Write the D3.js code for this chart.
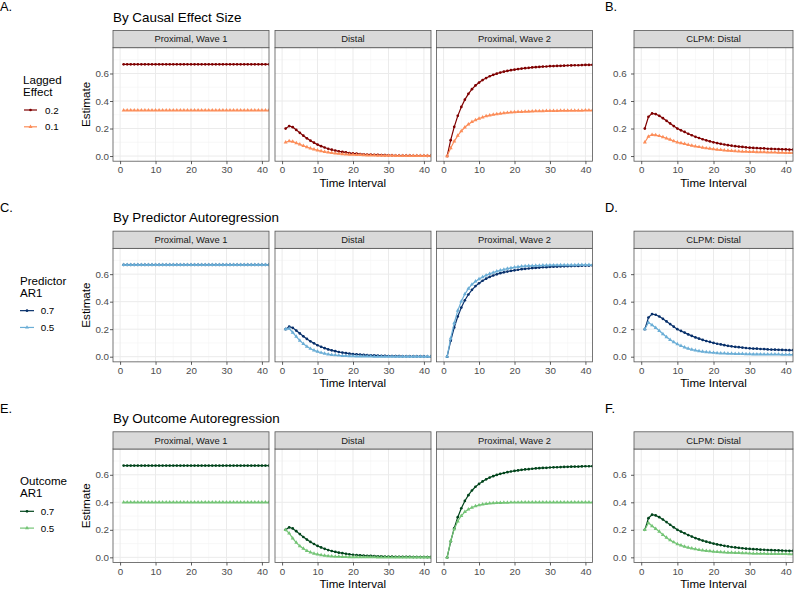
<!DOCTYPE html>
<html><head><meta charset="utf-8">
<script src="https://cdn.jsdelivr.net/npm/d3@7"></script>
<style>body{margin:0;background:#fff}svg{font-family:"Liberation Sans",Arial,sans-serif}</style>
</head><body><svg id="c" width="797" height="589"></svg>
<script>
// ---------------- DATA ----------------
const timeInterval = [1,2,3,4,5,6,7,8,9,10,11,12,13,14,15,16,17,18,19,20,21,22,23,24,25,26,27,28,29,30,31,32,33,34,35,36,37,38,39,40,41,42];

const stripLabels = ["Proximal, Wave 1","Distal","Proximal, Wave 2"];
const clpmStrip = "CLPM: Distal";
const rowTitles = ["By Causal Effect Size","By Predictor Autoregression","By Outcome Autoregression"];
const leftLabels = ["A.","C.","E."];
const rightLabels = ["B.","D.","F."];
const legendTitles = [["Lagged","Effect"],["Predictor","AR1"],["Outcome","AR1"]];
const legendLabels = [["0.2","0.1"],["0.7","0.5"],["0.7","0.5"]];
const xTicks = [0,10,20,30,40];
const yTicks = [0,0.2,0.4,0.6];
const xLabel = "Time Interval";
const yLabel = "Estimate";

// reference series (lagged 0.2, predictor AR 0.7, outcome AR 0.7) — same in every row
const darkProxW1 = [0.667,0.667,0.667,0.667,0.667,0.667,0.667,0.667,0.667,0.667,0.667,0.667,0.667,0.667,0.667,0.667,0.667,0.667,0.667,0.667,0.667,0.667,0.667,0.667,0.667,0.667,0.667,0.667,0.667,0.667,0.667,0.667,0.667,0.667,0.667,0.667,0.667,0.667,0.667,0.667,0.667,0.667];
const darkDistal = [0.200,0.218,0.210,0.190,0.169,0.148,0.129,0.112,0.097,0.083,0.072,0.062,0.053,0.046,0.040,0.034,0.030,0.026,0.022,0.019,0.017,0.015,0.013,0.011,0.010,0.009,0.008,0.007,0.006,0.005,0.005,0.004,0.004,0.003,0.003,0.003,0.002,0.002,0.002,0.002,0.001,0.001];
const darkProxW2 = [0.000,0.115,0.212,0.292,0.357,0.410,0.452,0.486,0.513,0.534,0.552,0.567,0.580,0.590,0.599,0.607,0.613,0.619,0.624,0.628,0.632,0.636,0.639,0.641,0.644,0.646,0.648,0.650,0.651,0.653,0.654,0.655,0.656,0.657,0.658,0.659,0.660,0.660,0.661,0.662,0.662,0.663];
const darkCLPM = [0.200,0.285,0.310,0.305,0.292,0.275,0.256,0.237,0.218,0.200,0.187,0.175,0.162,0.151,0.140,0.131,0.122,0.114,0.107,0.100,0.094,0.089,0.084,0.079,0.075,0.072,0.069,0.066,0.063,0.061,0.059,0.058,0.056,0.055,0.053,0.052,0.051,0.050,0.049,0.048,0.047,0.047];

// Lagged effect 0.1
const effProxW1 = [0.333,0.333,0.333,0.333,0.333,0.333,0.333,0.333,0.333,0.333,0.333,0.333,0.333,0.333,0.333,0.333,0.333,0.333,0.333,0.333,0.333,0.333,0.333,0.333,0.333,0.333,0.333,0.333,0.333,0.333,0.333,0.333,0.333,0.333,0.333,0.333,0.333,0.333,0.333,0.333,0.333,0.333];
const effDistal = [0.100,0.109,0.105,0.095,0.085,0.074,0.065,0.056,0.049,0.042,0.036,0.031,0.027,0.023,0.020,0.017,0.015,0.013,0.011,0.010,0.009,0.008,0.007,0.006,0.005,0.005,0.004,0.004,0.003,0.003,0.003,0.002,0.002,0.002,0.002,0.001,0.001,0.001,0.001,0.001,0.001,0.001];
const effProxW2 = [0.000,0.058,0.107,0.148,0.182,0.209,0.231,0.248,0.262,0.273,0.282,0.290,0.296,0.301,0.305,0.309,0.312,0.315,0.317,0.319,0.321,0.322,0.323,0.324,0.325,0.326,0.327,0.327,0.328,0.328,0.329,0.329,0.330,0.330,0.330,0.331,0.331,0.331,0.331,0.332,0.332,0.332];
const effCLPM = [0.100,0.142,0.155,0.153,0.146,0.138,0.128,0.119,0.109,0.100,0.094,0.088,0.081,0.076,0.070,0.066,0.061,0.057,0.054,0.050,0.047,0.045,0.042,0.040,0.038,0.036,0.035,0.033,0.032,0.031,0.030,0.029,0.028,0.028,0.027,0.026,0.026,0.025,0.025,0.024,0.024,0.024];

// Predictor AR 0.5
const predProxW1 = [0.667,0.667,0.667,0.667,0.667,0.667,0.667,0.667,0.667,0.667,0.667,0.667,0.667,0.667,0.667,0.667,0.667,0.667,0.667,0.667,0.667,0.667,0.667,0.667,0.667,0.667,0.667,0.667,0.667,0.667,0.667,0.667,0.667,0.667,0.667,0.667,0.667,0.667,0.667,0.667,0.667,0.667];
const predDistal = [0.200,0.205,0.176,0.146,0.117,0.093,0.074,0.058,0.046,0.037,0.029,0.023,0.018,0.014,0.011,0.009,0.007,0.006,0.005,0.004,0.003,0.003,0.002,0.002,0.002,0.001,0.001,0.001,0.001,0.001,0.001,0.001,0.000,0.000,0.000,0.000,0.000,0.000,0.000,0.000,0.000,0.000];
const predProxW2 = [0.000,0.133,0.245,0.335,0.403,0.455,0.495,0.525,0.547,0.564,0.579,0.592,0.603,0.612,0.620,0.627,0.634,0.640,0.645,0.650,0.653,0.656,0.658,0.660,0.661,0.662,0.663,0.664,0.664,0.665,0.665,0.665,0.666,0.666,0.666,0.666,0.666,0.667,0.667,0.667,0.667,0.667];
const predCLPM = [0.200,0.248,0.230,0.210,0.188,0.165,0.143,0.123,0.106,0.091,0.079,0.068,0.059,0.052,0.046,0.041,0.037,0.034,0.031,0.029,0.027,0.025,0.024,0.023,0.022,0.021,0.020,0.020,0.019,0.019,0.018,0.018,0.018,0.017,0.017,0.017,0.017,0.017,0.016,0.016,0.016,0.016];

// Outcome AR 0.5
const outProxW1 = [0.400,0.400,0.400,0.400,0.400,0.400,0.400,0.400,0.400,0.400,0.400,0.400,0.400,0.400,0.400,0.400,0.400,0.400,0.400,0.400,0.400,0.400,0.400,0.400,0.400,0.400,0.400,0.400,0.400,0.400,0.400,0.400,0.400,0.400,0.400,0.400,0.400,0.400,0.400,0.400,0.400,0.400];
const outDistal = [0.200,0.175,0.138,0.107,0.082,0.063,0.048,0.037,0.028,0.022,0.017,0.013,0.010,0.008,0.006,0.005,0.004,0.003,0.002,0.002,0.002,0.001,0.001,0.001,0.001,0.001,0.000,0.000,0.000,0.000,0.000,0.000,0.000,0.000,0.000,0.000,0.000,0.000,0.000,0.000,0.000,0.000];
const outProxW2 = [0.000,0.120,0.205,0.262,0.302,0.330,0.349,0.362,0.372,0.379,0.385,0.389,0.392,0.394,0.396,0.397,0.398,0.398,0.399,0.399,0.399,0.400,0.400,0.400,0.400,0.400,0.400,0.400,0.400,0.400,0.400,0.400,0.400,0.400,0.400,0.400,0.400,0.400,0.400,0.400,0.400,0.400];
const outCLPM = [0.200,0.250,0.228,0.208,0.187,0.164,0.143,0.125,0.110,0.097,0.087,0.078,0.071,0.065,0.060,0.055,0.051,0.048,0.045,0.042,0.040,0.038,0.036,0.035,0.034,0.033,0.032,0.031,0.030,0.029,0.028,0.028,0.027,0.027,0.026,0.026,0.025,0.025,0.025,0.025,0.024,0.024];

const rowColors = [["#7f0000","#fc8d59"],["#08306b","#6baed6"],["#00441b","#74c476"]];

const rows = [
  {dark:[darkProxW1,darkDistal,darkProxW2,darkCLPM], light:[effProxW1,effDistal,effProxW2,effCLPM]},
  {dark:[darkProxW1,darkDistal,darkProxW2,darkCLPM], light:[predProxW1,predDistal,predProxW2,predCLPM]},
  {dark:[darkProxW1,darkDistal,darkProxW2,darkCLPM], light:[outProxW1,outDistal,outProxW2,outCLPM]}
];

// ---------------- LAYOUT ----------------
const svg = d3.select("#c");
const ROW_DY = 200.65;
const stripTop = 30.5, panelTop = 47.7, panelBottom = 161.2;
const panelLefts = [113, 275, 436.5, 634];
const panelWidths = [156, 156, 156, 159];
const legendPos = [{tx:23,k0:24,k1:37,lx:45},{tx:20,k0:20,k1:34,lx:40.7},{tx:20,k0:20,k1:34,lx:40.7}];
const tickFont = 9.8, stripFont = 9.4, axisFont = 11.6;
let clipId = 0;

rows.forEach((row, r) => {
  const off = r * ROW_DY;
  const g = svg.append("g");
  const y = d3.scaleLinear().domain([-0.0375, 0.7875]).range([panelBottom + off, panelTop + off]);
  const cols = rowColors[r];

  g.append("text").attr("x", 0).attr("y", 11.3 + off).attr("font-size", 12.8).attr("fill", "#000").text(leftLabels[r]);
  g.append("text").attr("x", 605).attr("y", 11.3 + off).attr("font-size", 12.8).attr("fill", "#000").text(rightLabels[r]);
  g.append("text").attr("x", 113).attr("y", 21.7 + off).attr("font-size", 13.4).attr("fill", "#000").text(rowTitles[r]);

  for (let p = 0; p < 4; p++) {
    const L = panelLefts[p], W = panelWidths[p];
    const x = d3.scaleLinear().domain([-2, 42]).range([L, L + W]);
    const pg = g.append("g");
    pg.append("rect").attr("x", L).attr("y", panelTop + off).attr("width", W).attr("height", panelBottom - panelTop).attr("fill", "#fff");
    [5,15,25,35].forEach(v => pg.append("line").attr("x1", x(v)).attr("x2", x(v)).attr("y1", panelTop + off).attr("y2", panelBottom + off).attr("stroke", "#f3f3f3").attr("stroke-width", 0.6));
    [0.1,0.3,0.5,0.7].forEach(v => pg.append("line").attr("x1", L).attr("x2", L + W).attr("y1", y(v)).attr("y2", y(v)).attr("stroke", "#f3f3f3").attr("stroke-width", 0.6));
    xTicks.forEach(v => pg.append("line").attr("x1", x(v)).attr("x2", x(v)).attr("y1", panelTop + off).attr("y2", panelBottom + off).attr("stroke", "#ebebeb").attr("stroke-width", 1));
    yTicks.forEach(v => pg.append("line").attr("x1", L).attr("x2", L + W).attr("y1", y(v)).attr("y2", y(v)).attr("stroke", "#ebebeb").attr("stroke-width", 1));

    const cid = "clip" + (clipId++);
    pg.append("clipPath").attr("id", cid).append("rect").attr("x", L).attr("y", panelTop + off).attr("width", W).attr("height", panelBottom - panelTop);
    const dg = pg.append("g").attr("clip-path", `url(#${cid})`);
    const line = d3.line().x(d => x(d[0])).y(d => y(d[1]));
    const seriesList = [{vals: row.dark[p], col: cols[0], shape: "c"}, {vals: row.light[p], col: cols[1], shape: "t"}];
    seriesList.forEach(s => {
      const pts = timeInterval.map((t, i) => [t, s.vals[i]]);
      dg.append("path").attr("d", line(pts)).attr("fill", "none").attr("stroke", s.col).attr("stroke-width", 1.2);
      if (s.shape === "c") {
        dg.selectAll(null).data(pts).enter().append("circle").attr("cx", d => x(d[0])).attr("cy", d => y(d[1])).attr("r", 1.35).attr("fill", s.col);
      } else {
        const sym = d3.symbol(d3.symbolTriangle, 7);
        dg.selectAll(null).data(pts).enter().append("path").attr("d", sym).attr("transform", d => `translate(${x(d[0])},${y(d[1])})`).attr("fill", s.col);
      }
    });

    pg.append("rect").attr("x", L).attr("y", panelTop + off).attr("width", W).attr("height", panelBottom - panelTop).attr("fill", "none").attr("stroke", "#555").attr("stroke-width", 0.8);
    pg.append("rect").attr("x", L).attr("y", stripTop + off).attr("width", W).attr("height", panelTop - stripTop).attr("fill", "#d9d9d9").attr("stroke", "#555").attr("stroke-width", 0.8);
    pg.append("text").attr("x", L + W / 2).attr("y", 42.2 + off).attr("text-anchor", "middle").attr("font-size", stripFont).attr("fill", "#1a1a1a").text(p < 3 ? stripLabels[p] : clpmStrip);

    const xa = pg.append("g").attr("transform", `translate(0,${panelBottom + off})`)
      .call(d3.axisBottom(x).tickValues(xTicks).tickSize(3).tickPadding(2.2));
    xa.select(".domain").remove();
    xa.selectAll("line").attr("stroke", "#333").attr("stroke-width", 0.8);
    xa.selectAll("text").attr("font-size", tickFont).attr("fill", "#4d4d4d").attr("font-family", "Liberation Sans, Arial, sans-serif");

    if (p === 0 || p === 3) {
      const ya = pg.append("g").attr("transform", `translate(${L},0)`)
        .call(d3.axisLeft(y).tickValues(yTicks).tickFormat(d3.format(".1f")).tickSize(3).tickPadding(p === 0 ? 1 : 4.3));
      ya.select(".domain").remove();
      ya.selectAll("line").attr("stroke", "#333").attr("stroke-width", 0.8);
      ya.selectAll("text").attr("font-size", tickFont).attr("fill", "#4d4d4d").attr("font-family", "Liberation Sans, Arial, sans-serif");
    }
  }

  g.append("text").attr("x", (panelLefts[0] + panelLefts[2] + panelWidths[2]) / 2).attr("y", 186.8 + off).attr("text-anchor", "middle").attr("font-size", axisFont).attr("fill", "#000").text(xLabel);
  g.append("text").attr("x", panelLefts[3] + panelWidths[3] / 2).attr("y", 186.8 + off).attr("text-anchor", "middle").attr("font-size", axisFont).attr("fill", "#000").text(xLabel);
  g.append("text").attr("transform", `translate(90.3,${(panelTop + panelBottom) / 2 + off}) rotate(-90)`).attr("text-anchor", "middle").attr("font-size", axisFont).attr("fill", "#000").text(yLabel);

  const lp = legendPos[r];
  g.append("text").attr("x", lp.tx).attr("y", 84 + off).attr("font-size", axisFont).attr("fill", "#000").text(legendTitles[r][0]);
  g.append("text").attr("x", lp.tx).attr("y", 96 + off).attr("font-size", axisFont).attr("fill", "#000").text(legendTitles[r][1]);
  [110, 126.8].forEach((ky, i) => {
    const yy = ky + off;
    g.append("line").attr("x1", lp.k0).attr("x2", lp.k1).attr("y1", yy).attr("y2", yy).attr("stroke", cols[i]).attr("stroke-width", 1.2);
    const cx = (lp.k0 + lp.k1) / 2;
    if (i === 0) g.append("circle").attr("cx", cx).attr("cy", yy).attr("r", 1.35).attr("fill", cols[i]);
    else g.append("path").attr("d", d3.symbol(d3.symbolTriangle, 7)).attr("transform", `translate(${cx},${yy})`).attr("fill", cols[i]);
    g.append("text").attr("x", lp.lx).attr("y", yy + 3.5).attr("font-size", tickFont).attr("fill", "#000").text(legendLabels[r][i]);
  });
});
</script>
</body></html>
